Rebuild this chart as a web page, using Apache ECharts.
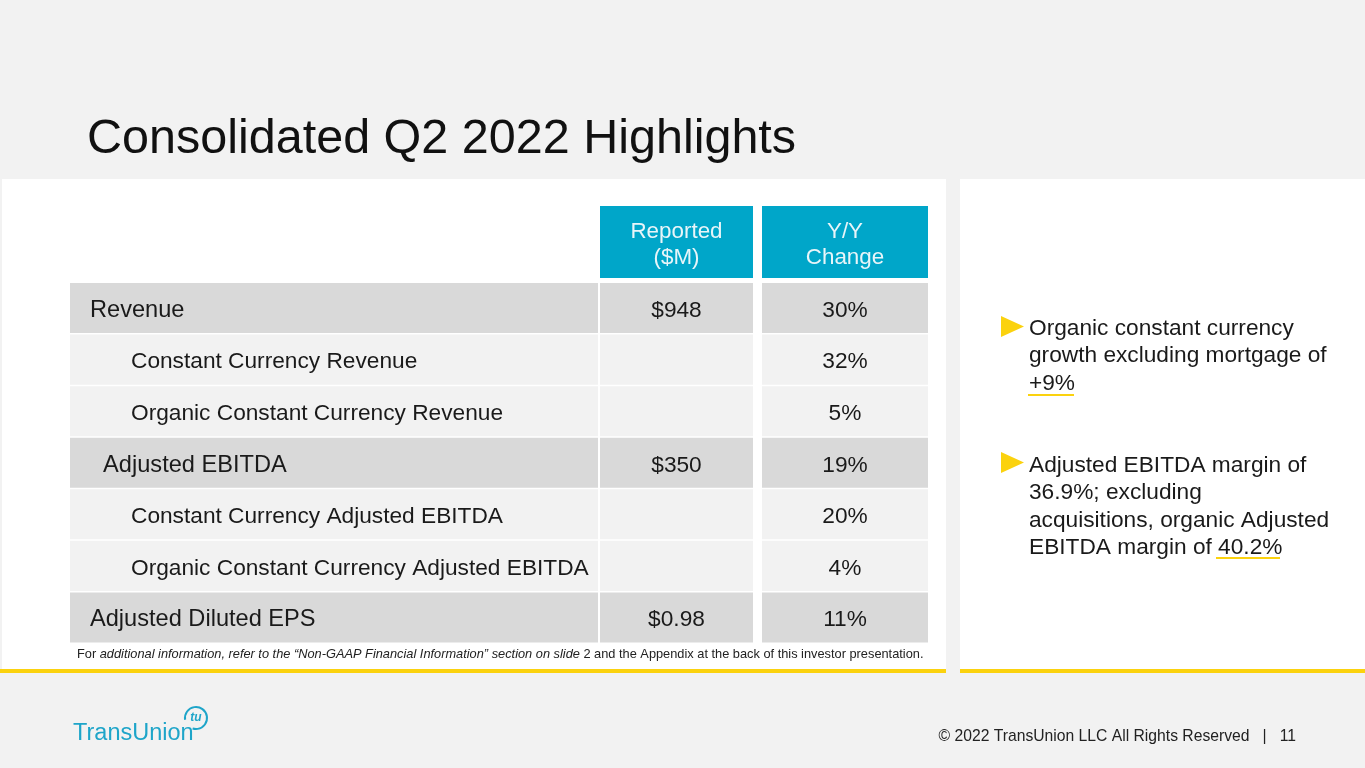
<!DOCTYPE html>
<html>
<head>
<meta charset="utf-8">
<title>Consolidated Q2 2022 Highlights</title>
<script src="https://cdn.jsdelivr.net/npm/echarts@6/dist/echarts.min.js"></script>
<style>
  html, body { margin: 0; padding: 0; background: #f2f2f2; }
  #main { width: 1365px; height: 768px; }
</style>
</head>
<body>
<div id="main"></div>
<script>
// table content
var rowLabels = ['Revenue', 'Constant Currency Revenue', 'Organic Constant Currency Revenue',
  '  Adjusted EBITDA', 'Constant Currency Adjusted EBITDA', 'Organic Constant Currency Adjusted EBITDA',
  'Adjusted Diluted EPS'];
var rowLevel = [0, 1, 1, 0, 1, 1, 0];
var reported = ['$948', '', '', '$350', '', '', '$0.98'];
var yoyChange = ['30%', '32%', '5%', '19%', '20%', '4%', '11%'];
var headerLabels = ['', 'Reported\n($M)', 'Y/Y\nChange'];

var FONT = "'Liberation Sans', Arial, sans-serif";
var TEXT = '#1a1a1a';
var BLUE = '#00a6c9';
var YELLOW = '#fbd20e';

// column edges on the x scale (0..858 px of table width)
var COLS = [[0, 528], [530, 683], [692, 858]];

var chart = echarts.init(document.getElementById('main'));

var bodyData = [];
rowLabels.forEach(function (label, i) {
  bodyData.push([0, i, label]);
  bodyData.push([1, i, reported[i]]);
  bodyData.push([2, i, yoyChange[i]]);
});
var headData = [[1, 0, headerLabels[1]], [2, 0, headerLabels[2]]];

function bodyCell(params, api) {
  var col = api.value(0), row = api.value(1);
  var txt = bodyData[params.dataIndex][2];
  var e = COLS[col];
  var p0 = api.coord([e[0], row]);
  var p1 = api.coord([e[1], row]);
  var h = api.size([0, 1])[1];
  var lvl = rowLevel[row];
  var top = p0[1] - h / 2;
  var ty = top + (h - 1.5) / 2 + 2.5;
  var textEl;
  if (col === 0) {
    textEl = {
      type: 'text',
      style: {
        text: txt, x: p0[0] + (lvl === 0 ? 20 : 61), y: ty,
        align: 'left', verticalAlign: 'middle', fill: TEXT,
        font: (lvl === 0 ? '23.6px ' : '22.7px ') + FONT
      }
    };
  } else {
    textEl = {
      type: 'text',
      style: {
        text: txt, x: (p0[0] + p1[0]) / 2, y: ty,
        align: 'center', verticalAlign: 'middle', fill: TEXT,
        font: '22.7px ' + FONT
      }
    };
  }
  return {
    type: 'group',
    children: [{
      type: 'rect',
      shape: { x: p0[0], y: top, width: p1[0] - p0[0], height: h - 1.5 },
      style: { fill: lvl === 0 ? '#d9d9d9' : '#f2f2f2' }
    }, textEl]
  };
}

function headCell(params, api) {
  var col = api.value(0), row = api.value(1);
  var e = COLS[col];
  var p0 = api.coord([e[0], row]);
  var p1 = api.coord([e[1], row]);
  var h = api.size([0, 1])[1];
  return {
    type: 'group',
    children: [{
      type: 'rect',
      shape: { x: p0[0], y: p0[1] - h / 2, width: p1[0] - p0[0], height: h },
      style: { fill: BLUE }
    }, {
      type: 'text',
      style: {
        text: headData[params.dataIndex][2], x: (p0[0] + p1[0]) / 2, y: p0[1] + 3,
        align: 'center', verticalAlign: 'middle', fill: '#e8f5f9',
        font: '22.4px ' + FONT, lineHeight: 26
      }
    }]
  };
}

var option = {
  backgroundColor: '#f2f2f2',
  animation: false,
  grid: [
    { left: 70, width: 858, top: 206, height: 72 },
    { left: 70, width: 858, top: 283, height: 361 }
  ],
  xAxis: [
    { type: 'value', gridIndex: 0, min: 0, max: 858, show: false },
    { type: 'value', gridIndex: 1, min: 0, max: 858, show: false }
  ],
  yAxis: [
    { type: 'category', gridIndex: 0, data: ['header'], show: false },
    { type: 'category', gridIndex: 1, data: rowLabels, inverse: true, show: false }
  ],
  series: [
    { type: 'custom', xAxisIndex: 0, yAxisIndex: 0, renderItem: headCell, data: headData, silent: true },
    { type: 'custom', xAxisIndex: 1, yAxisIndex: 1, renderItem: bodyCell, data: bodyData, silent: true }
  ],
  graphic: [
    // panels
    { type: 'rect', z: -10, shape: { x: 2, y: 179, width: 944, height: 491 }, style: { fill: '#ffffff' } },
    { type: 'rect', z: -9, shape: { x: 0, y: 669, width: 946, height: 4 }, style: { fill: YELLOW } },
    { type: 'rect', z: -10, shape: { x: 960, y: 179, width: 405, height: 491 }, style: { fill: '#ffffff' } },
    { type: 'rect', z: -9, shape: { x: 960, y: 669, width: 405, height: 4 }, style: { fill: YELLOW } },
    // title
    {
      type: 'text', left: 87, top: 115,
      style: { text: 'Consolidated Q2 2022 Highlights', font: '48.5px ' + FONT, fill: '#111111' }
    },
    // footnote
    {
      type: 'text', left: 77, top: 648,
      style: {
        text: '{n|For }{i|additional information, refer to the \u201cNon-GAAP Financial Information\u201d section on slide}{n| 2 and the Appendix at the back of this investor presentation.}',
        rich: {
          n: { fontSize: 12.8, fontFamily: FONT, fill: '#222222' },
          i: { fontSize: 12.8, fontFamily: FONT, fontStyle: 'italic', fill: '#222222' }
        }
      }
    },
    // bullet 1
    { type: 'polygon', shape: { points: [[1001, 316], [1024, 326.5], [1001, 337]] }, style: { fill: YELLOW } },
    {
      type: 'text', left: 1029, top: 315,
      style: {
        text: 'Organic constant currency\ngrowth excluding mortgage of\n+9%',
        font: '22.7px ' + FONT, lineHeight: 27.4, fill: TEXT
      }
    },
    { type: 'rect', shape: { x: 1028, y: 394, width: 46, height: 2 }, style: { fill: YELLOW } },
    // bullet 2
    { type: 'polygon', shape: { points: [[1001, 452], [1024, 462.5], [1001, 473]] }, style: { fill: YELLOW } },
    {
      type: 'text', left: 1029, top: 452,
      style: {
        text: 'Adjusted EBITDA margin of\n36.9%; excluding\nacquisitions, organic Adjusted\nEBITDA margin of 40.2%',
        font: '22.7px ' + FONT, lineHeight: 27.4, fill: TEXT
      }
    },
    { type: 'rect', shape: { x: 1216, y: 557, width: 64, height: 2 }, style: { fill: YELLOW } },
    // copyright
    {
      type: 'text', right: 69, top: 729,
      style: { text: '\u00a9 2022 TransUnion LLC All Rights Reserved   |   11', font: '15.7px ' + FONT, fill: '#222222' }
    },
    // logo
    {
      type: 'text', left: 73, top: 722,
      style: { text: 'TransUnion', font: '500 23.5px ' + FONT, fill: '#1ea5c9' }
    },
    {
      type: 'arc', shape: { cx: 196, cy: 718, r: 11, startAngle: Math.PI * 0.95, endAngle: Math.PI * 2.6 },
      style: { stroke: '#1ea5c9', lineWidth: 2, fill: null }
    },
    {
      type: 'text', x: 196, y: 718,
      style: { text: 'tu', font: 'italic bold 12px ' + FONT, fill: '#1ea5c9', align: 'center', verticalAlign: 'middle' }
    }
  ]
};

chart.setOption(option);
</script>
</body>
</html>
